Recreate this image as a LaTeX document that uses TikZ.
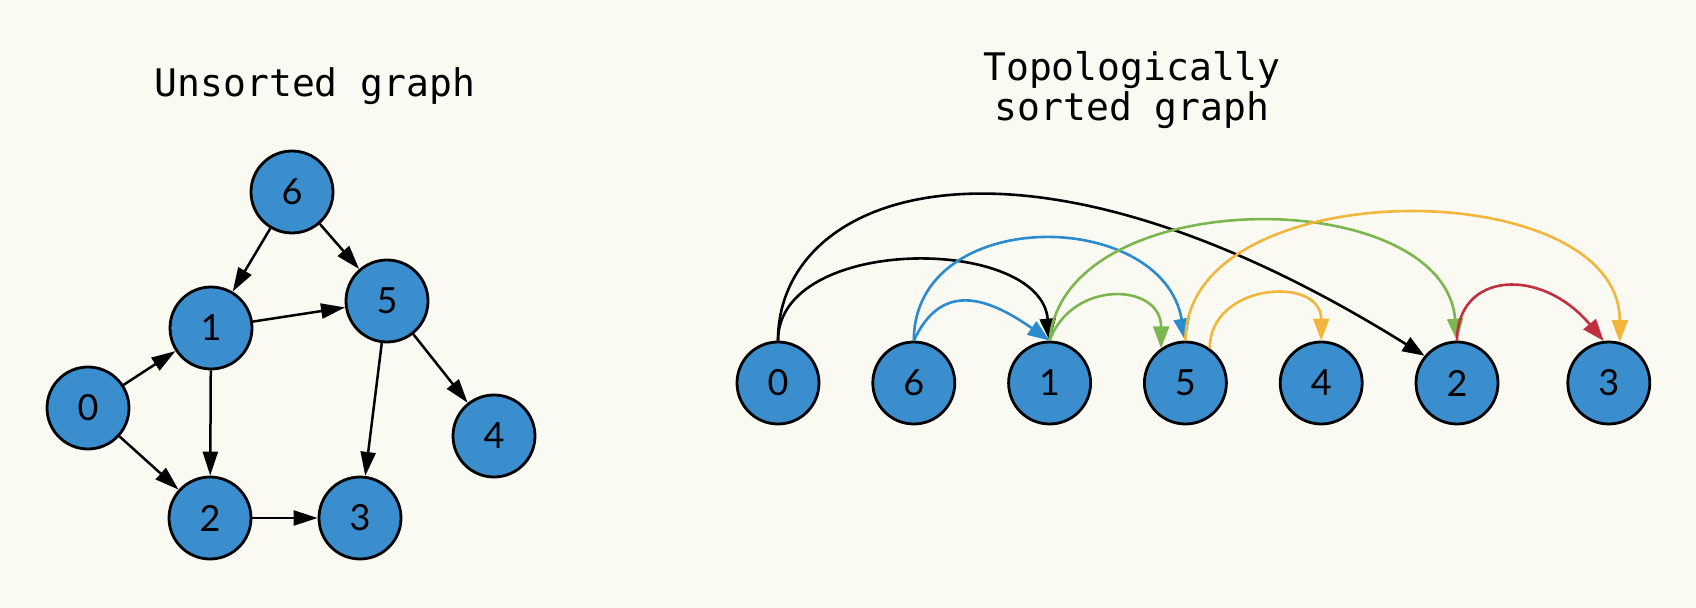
\documentclass[tikz,border=0pt]{standalone}
\usepackage{fontspec}
\setmainfont{Lato}
\newfontfamily\titlefont{DejaVu Sans Mono}
\usepackage{tikz}
\usetikzlibrary{arrows.meta, positioning}

\definecolor{paper}{HTML}{FBFAF2}
\definecolor{vertexblue}{HTML}{3A8ECD}
\definecolor{arcblue}{HTML}{2A8BCF}
\definecolor{arcgreen}{HTML}{7BB74E}
\definecolor{arcyellow}{HTML}{F1B63B}
\definecolor{arcred}{HTML}{C22F3F}

\begin{document}
\begin{tikzpicture}[
    x=0.5pt, y=-0.5pt,
    vertex/.style={circle, draw=black, line width=1.4pt, fill=vertexblue, minimum size=41pt, inner sep=0pt, font=\fontsize{18}{20}\selectfont},
    heading/.style={font=\titlefont\fontsize{19}{20}\selectfont, align=center},
    link/.style={-{Triangle[length=12pt, width=7.5pt]}, line width=1.25pt},
    sortarc/.style={-{Triangle[length=11pt, width=8pt]}, line width=1.3pt},
    node distance=25.5pt
]

% Canvas
\useasboundingbox (0,0) rectangle (1696,608);
\fill[paper] (0,0) rectangle (1696,608);

% Unsorted graph
\node[heading, anchor=base] (lefttitle) at (315,97) {Unsorted graph};
\node[vertex] (u6) at (292,192) {6};
\node[vertex] (u1) at (211,328) {1};
\node[vertex] (u5) at (387,301) {5};
\node[vertex] (u0) at (88,408) {0};
\node[vertex] (u4) at (494,436) {4};
\node[vertex] (u2) at (210,518) {2};
\node[vertex] (u3) at (360,518) {3};

\draw[link] (u6) -- (u1);
\draw[link] (u6) -- (u5);
\draw[link] (u1) -- (u5);
\draw[link] (u0) -- (u1);
\draw[link] (u0) -- (u2);
\draw[link] (u1) -- (u2);
\draw[link] (u5) -- (u3);
\draw[link] (u5) -- (u4);
\draw[link] (u2) -- (u3);

% Sorted graph
\node[heading] (righttitle) at (1132,90) {Topologically\\sorted graph};
\node[vertex] (t0) at (778,383) {0};
\node[vertex, right=of t0] (t6) {6};
\node[vertex, right=of t6] (t1) {1};
\node[vertex, right=of t1] (t5) {5};
\node[vertex, right=of t5] (t4) {4};
\node[vertex, right=of t4] (t2) {2};
\node[vertex, right=33.5pt of t2] (t3) {3};

% Arcs from 0
\draw[sortarc] (t0.north) to[out=90, in=95] (t1.north);
\draw[sortarc] (t0.north) .. controls +(0,-150) and +(-407,-254) .. (t2.140);
% Arcs from 6
\draw[sortarc, arcblue] (t6.north) to[out=65, in=145, out looseness=1.2, in looseness=1.5] (t1.north);
\draw[sortarc, arcblue] (t6.north) to[out=90, in=100, looseness=1.28] (t5.north);
% Arcs from 1
\draw[sortarc, arcgreen] (t1.north) to[out=70, in=90, looseness=1.5] (t5.125);
\draw[sortarc, arcgreen] (t1.north) to[out=85, in=95] (t2.north);
% Arcs from 5
\draw[sortarc, arcyellow] (t5.55) to[out=90, in=90, looseness=1.5] (t4.north);
\draw[sortarc, arcyellow] (t5.north) to[out=90, in=90] (t3.75);
% Arc from 2
\draw[sortarc, arcred] (t2.north) to[out=90, in=130, out looseness=1.2, in looseness=1.7] (t3.97);

\end{tikzpicture}
\end{document}
